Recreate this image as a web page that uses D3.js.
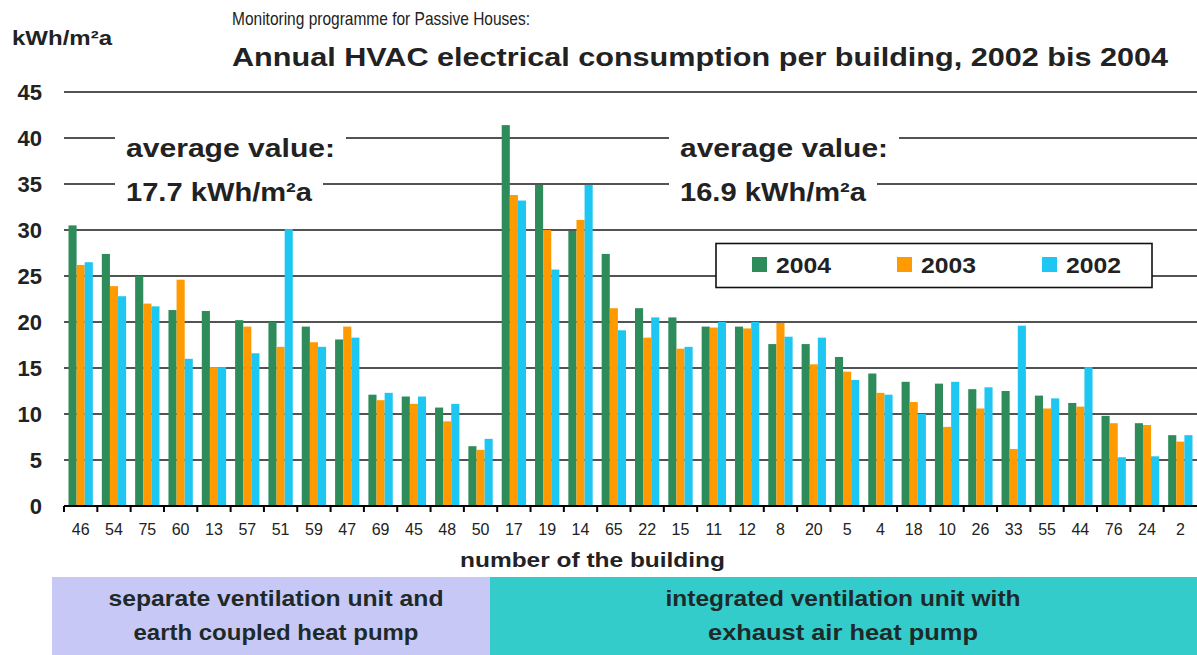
<!DOCTYPE html>
<html>
<head>
<meta charset="utf-8">
<title>Annual HVAC electrical consumption per building</title>
<script src="https://cdn.jsdelivr.net/npm/d3@7"></script>
<style>
body { margin: 0; background: #fff; }
svg { display: block; font-family: "Liberation Sans", Arial, sans-serif; }
.grid line { stroke: #1a1a1a; stroke-width: 1.6; }
.xaxis path, .xaxis line { stroke: #000; stroke-width: 2; }
.xaxis text { font-size: 16px; fill: #222; }
.ylab { font-size: 22px; font-weight: bold; fill: #222; }
</style>
</head>
<body>
<script>
// building numbers, left group first
var buildings = ["46","54","75","60","13","57","51","59","47","69","45","48","50",
  "17","19","14","65","22","15","11","12","8","20","5","4","18","10","26","33","55","44","76","24","2"];
var years = ["2004", "2003", "2002"];
var v2004 = [30.5,27.4,25.0,21.3,21.2,20.2,20.0,19.5,18.1,12.1,11.9,10.7,6.5,
  41.4,34.9,29.9,27.4,21.5,20.5,19.5,19.5,17.6,17.6,16.2,14.4,13.5,13.3,12.7,12.5,12.0,11.2,9.8,9.0,7.7];
var v2003 = [26.2,23.9,22.0,24.6,15.1,19.5,17.3,17.8,19.5,11.5,11.1,9.2,6.1,
  33.8,30.0,31.1,21.5,18.3,17.1,19.4,19.3,19.9,15.4,14.6,12.3,11.3,8.6,10.6,6.2,10.6,10.8,9.0,8.8,7.0];
var v2002 = [26.5,22.8,21.7,16.0,15.1,16.6,30.1,17.3,18.3,12.3,11.9,11.1,7.3,
  33.2,25.7,34.9,19.1,20.5,17.3,20.0,20.0,18.4,18.3,13.7,12.1,10.0,13.5,12.9,19.6,11.7,15.1,5.3,5.4,7.7];
var yTicks = [0, 5, 10, 15, 20, 25, 30, 35, 40, 45];
var averages = ["17.7", "16.9"];
var groups = [
  ["separate ventilation unit and", "earth coupled heat pump"],
  ["integrated ventilation unit with", "exhaust air heat pump"]
];

var width = 1197, height = 655;
var colors = { "2004": "#2e8b5a", "2003": "#ff9a00", "2002": "#1ec6f2" };

var svg = d3.select("body").append("svg")
    .attr("width", width)
    .attr("height", height);

var x = d3.scaleBand().domain(buildings).range([64, 1197]).padding(0);
var y = d3.scaleLinear().domain([0, 45]).range([506, 92]);
var xs = d3.scaleBand().domain(years)
    .range([4.5, 4.5 + x.bandwidth() * 0.73]).padding(0);

var rows = buildings.map(function(b, i) {
  return { b: b, "2004": v2004[i], "2003": v2003[i], "2002": v2002[i] };
});

// gridlines
svg.append("g").attr("class", "grid")
  .selectAll("line")
  .data(yTicks.filter(function(d) { return d > 0; }))
  .enter().append("line")
    .attr("x1", 64).attr("x2", width)
    .attr("y1", function(d) { return y(d); })
    .attr("y2", function(d) { return y(d); });

// y labels
svg.append("g").selectAll("text")
  .data(yTicks)
  .enter().append("text")
    .attr("class", "ylab")
    .attr("x", 42)
    .attr("y", function(d) { return y(d) + 8; })
    .attr("text-anchor", "end")
    .text(function(d) { return d; });

// bars
var grp = svg.append("g").selectAll("g")
  .data(rows)
  .enter().append("g")
    .attr("transform", function(d) { return "translate(" + x(d.b) + ",0)"; });

grp.selectAll("rect")
  .data(function(d) { return years.map(function(k) { return { k: k, v: d[k] }; }); })
  .enter().append("rect")
    .attr("x", function(d) { return xs(d.k); })
    .attr("width", xs.bandwidth())
    .attr("y", function(d) { return y(d.v); })
    .attr("height", function(d) { return y(0) - y(d.v); })
    .attr("fill", function(d) { return colors[d.k]; });

// x axis with ticks on band boundaries
var xAxis = svg.append("g").attr("class", "xaxis")
    .attr("transform", "translate(0," + y(0) + ")");
xAxis.append("line").attr("x1", 64).attr("x2", width).attr("y1", 0).attr("y2", 0);
xAxis.selectAll("line.tk")
  .data(buildings)
  .enter().append("line")
    .attr("class", "tk")
    .attr("x1", function(d) { return x(d); })
    .attr("x2", function(d) { return x(d); })
    .attr("y1", 0).attr("y2", 6);
xAxis.selectAll("text")
  .data(buildings)
  .enter().append("text")
    .attr("x", function(d) { return x(d) + x.bandwidth() / 2; })
    .attr("y", 29)
    .attr("text-anchor", "middle")
    .text(function(d) { return d; });

// annotations with white background
function note(x0, lines) {
  var g = svg.append("g");
  var bg = g.append("g");
  lines.forEach(function(l) {
    g.append("text")
      .attr("x", x0).attr("y", l.y)
      .attr("font-size", 26).attr("font-weight", "bold").attr("fill", "#222")
      .attr("textLength", l.w).attr("lengthAdjust", "spacingAndGlyphs")
      .text(l.t);
    bg.append("rect")
      .attr("x", x0 - 11).attr("y", l.y - 24)
      .attr("width", l.w + 22).attr("height", 32)
      .attr("fill", "#fff");
  });
}
note(126, [{ t: "average value:", y: 157, w: 209 }, { t: averages[0] + " kWh/m²a", y: 201, w: 186 }]);
note(680, [{ t: "average value:", y: 157, w: 208 }, { t: averages[1] + " kWh/m²a", y: 201, w: 186 }]);

// legend
var lg = svg.append("g");
lg.append("rect").attr("x", 716).attr("y", 243.5).attr("width", 436).attr("height", 44)
  .attr("fill", "#fff").attr("stroke", "#111").attr("stroke-width", 1.6);
var lgX = [752, 897, 1042];
years.forEach(function(k, i) {
  lg.append("rect").attr("x", lgX[i]).attr("y", 257).attr("width", 15).attr("height", 15)
    .attr("fill", colors[k]);
  lg.append("text").attr("x", lgX[i] + 24).attr("y", 273)
    .attr("font-size", 22).attr("font-weight", "bold").attr("fill", "#222")
    .attr("textLength", 55).attr("lengthAdjust", "spacingAndGlyphs")
    .text(k);
});

// titles
svg.append("text").attr("x", 12).attr("y", 45)
  .attr("font-size", 21).attr("font-weight", "bold").attr("fill", "#222")
  .attr("textLength", 100).attr("lengthAdjust", "spacingAndGlyphs")
  .text("kWh/m²a");
svg.append("text").attr("x", 232).attr("y", 25)
  .attr("font-size", 19).attr("fill", "#222")
  .attr("textLength", 298).attr("lengthAdjust", "spacingAndGlyphs")
  .text("Monitoring programme for Passive Houses:");
svg.append("text").attr("x", 232).attr("y", 66)
  .attr("font-size", 25).attr("font-weight", "bold").attr("fill", "#222")
  .attr("textLength", 936).attr("lengthAdjust", "spacingAndGlyphs")
  .text("Annual HVAC electrical consumption per building, 2002 bis 2004");
svg.append("text").attr("x", 460).attr("y", 567)
  .attr("font-size", 21).attr("font-weight", "bold").attr("fill", "#222")
  .attr("textLength", 265).attr("lengthAdjust", "spacingAndGlyphs")
  .text("number of the building");

// group boxes below the axis
var boxX = [52, 490, width];
var boxFill = ["#c8c8f6", "#33cccb"];
var lineW = [[335, 285], [355, 270]];
groups.forEach(function(g, i) {
  var w = boxX[i + 1] - boxX[i];
  svg.append("rect").attr("x", boxX[i]).attr("y", 577)
    .attr("width", w).attr("height", height - 577)
    .attr("fill", boxFill[i]);
  g.forEach(function(line, j) {
    var cx = (i === 0 ? 276 : 843);
    svg.append("text")
      .attr("x", cx - lineW[i][j] / 2)
      .attr("y", 606 + j * 34)
      .attr("font-size", 22).attr("font-weight", "bold").attr("fill", "#1e2a2a")
      .attr("textLength", lineW[i][j]).attr("lengthAdjust", "spacingAndGlyphs")
      .text(line);
  });
});
</script>
</body>
</html>
